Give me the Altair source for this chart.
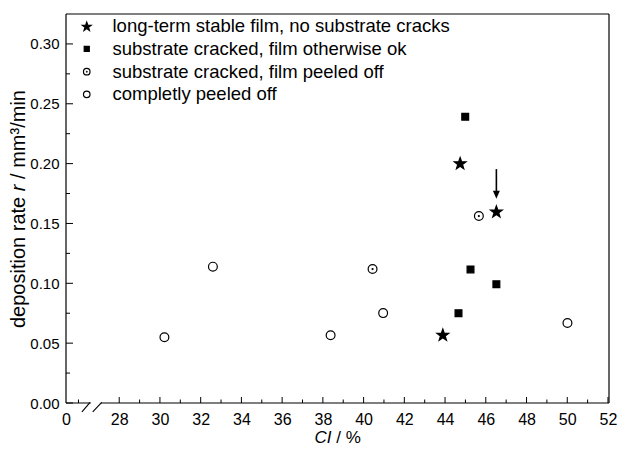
import altair as alt
import pandas as pd

FONT = "Liberation Sans"

categories = [
    "long-term stable film, no substrate cracks",
    "substrate cracked, film otherwise ok",
    "substrate cracked, film peeled off",
    "completly peeled off",
]

stable_x = [44.74, 46.52, 43.89]
stable_y = [0.2004, 0.1600, 0.0571]
cracked_x = [44.99, 45.25, 46.52, 44.66]
cracked_y = [0.2392, 0.1116, 0.0992, 0.0750]
cracked_peeled_x = [45.66, 40.44]
cracked_peeled_y = [0.1562, 0.1119]
peeled_x = [30.22, 32.60, 38.38, 40.96, 50.01]
peeled_y = [0.0549, 0.1139, 0.0566, 0.0751, 0.0668]

x_break_start = 25.387          # position labelled "0"
x_end = 52.05
x_major = [28, 30, 32, 34, 36, 38, 40, 42, 44, 46, 48, 50, 52]
x_minor = [26, 29, 31, 33, 35, 37, 39, 41, 43, 45, 47, 49, 51]
y_major = [0.0, 0.05, 0.10, 0.15, 0.20, 0.25, 0.30]
y_minor = [0.025, 0.075, 0.125, 0.175, 0.225, 0.275]
y_end = 0.325

arrow_x = [46.52]
arrow_top = [0.1954]
arrow_bottom = [0.1765]
arrow_head = [0.1739]

break_x1 = [26.17, 26.70]
break_x2 = [26.57, 27.14]
break_y1 = [-0.0075, -0.0075]
break_y2 = [0.0006, 0.0006]
gap_x = [26.60]
gap_x2 = [27.10]

W, H = 543, 389

STAR = ("M0,-0.905L0.235,-0.229L0.951,-0.214L0.380,0.219L0.588,0.904"
        "L0,0.495L-0.588,0.904L-0.380,0.219L-0.951,-0.214L-0.235,-0.229Z")
SQUARE = "M-0.55,-0.55L0.55,-0.55L0.55,0.55L-0.55,0.55Z"
CIRCLE = ("M0.71,0C0.71,0.392 0.392,0.71 0,0.71C-0.392,0.71 -0.71,0.392 -0.71,0"
          "C-0.71,-0.392 -0.392,-0.71 0,-0.71C0.392,-0.71 0.71,-0.392 0.71,0Z")
DOT = ("M0.08,0C0.08,0.044 0.044,0.08 0,0.08C-0.044,0.08 -0.08,0.044 -0.08,0"
       "C-0.08,-0.044 -0.044,-0.08 0,-0.08C0.044,-0.08 0.08,-0.044 0.08,0Z")
DOTCIRCLE = CIRCLE + DOT
HEAD = "M-0.875,-1L0.875,-1L0,1Z"

rows = []
for cat, xs, ys in [
    (categories[0], stable_x, stable_y),
    (categories[1], cracked_x, cracked_y),
    (categories[2], cracked_peeled_x, cracked_peeled_y),
    (categories[3], peeled_x, peeled_y),
]:
    for a, b in zip(xs, ys):
        rows.append({"x": a, "y": b, "cat": cat})
df = pd.DataFrame(rows)

xscale = alt.Scale(domain=[x_break_start, x_end], nice=False, zero=False)
yscale = alt.Scale(domain=[0, y_end], nice=False, zero=False)

x_axis = alt.Axis(
    values=[x_break_start] + x_major,
    labelExpr="datum.value < 27 ? '0' : format(datum.value, 'd')",
    ticks=False, tickSize=0, domain=False, grid=False, title=None,
    labelFont=FONT, labelFontSize=16, labelColor="black", labelPadding=8,
    labelFlush=False, labelOverlap=False, labelBound=False)
y_axis = alt.Axis(
    values=y_major, format=".2f",
    ticks=False, tickSize=0, domain=False, grid=False, title=None,
    labelFont=FONT, labelFontSize=15, labelColor="black", labelPadding=7,
    labelOverlap=False, labelFlush=False)

legend = alt.Legend(
    title=None, orient="none", legendX=11.5, legendY=3, padding=0,
    labelFont=FONT, labelFontSize=18.5, labelColor="black", labelOffset=16.5,
    symbolSize=85, symbolStrokeWidth=1.2,
    rowPadding=3.7, labelLimit=500,
)

points = alt.Chart(df).mark_point(
    filled=True, strokeWidth=1.2, size=154, opacity=1
).encode(
    x=alt.X("x:Q", scale=xscale, axis=x_axis),
    y=alt.Y("y:Q", scale=yscale, axis=y_axis),
    shape=alt.Shape("cat:N", scale=alt.Scale(
        domain=categories, range=[STAR, SQUARE, DOTCIRCLE, CIRCLE]), legend=legend),
    fill=alt.Fill("cat:N", scale=alt.Scale(
        domain=categories, range=["black", "black", "white", "white"]), legend=legend),
    stroke=alt.Stroke("cat:N", scale=alt.Scale(
        domain=categories, range=["black", "black", "black", "black"]), legend=legend),
)


def xtick_layer(vals, length):
    return alt.Chart(pd.DataFrame({"x": vals})).mark_rule(
        color="black", strokeWidth=1).encode(
        x=alt.X("x:Q", scale=xscale, axis=x_axis),
        y=alt.value(H), y2=alt.value(H - length))


def ytick_layer(vals, length):
    return alt.Chart(pd.DataFrame({"y": vals})).mark_rule(
        color="black", strokeWidth=1).encode(
        y=alt.Y("y:Q", scale=yscale, axis=y_axis),
        x=alt.value(0), x2=alt.value(length))


one = pd.DataFrame({"a": [0]})
border_left = alt.Chart(one).mark_rule(color="black", strokeWidth=1.2).encode(
    x=alt.value(0), y=alt.value(0), y2=alt.value(H))
border_bottom = alt.Chart(one).mark_rule(color="black", strokeWidth=1.2).encode(
    x=alt.value(0), x2=alt.value(W), y=alt.value(H))
border_top = alt.Chart(one).mark_rule(color="black", strokeWidth=1.2).encode(
    x=alt.value(0), x2=alt.value(W), y=alt.value(0))
border_right = alt.Chart(one).mark_rule(color="black", strokeWidth=1.2).encode(
    x=alt.value(W), y=alt.value(0), y2=alt.value(H))

gap = alt.Chart(pd.DataFrame({"x": gap_x, "x2": gap_x2, "y": [0.0]})).mark_rule(
    color="white", strokeWidth=4, clip=False).encode(
    x=alt.X("x:Q", scale=xscale, axis=x_axis), x2="x2:Q",
    y=alt.Y("y:Q", scale=yscale, axis=y_axis))

breaks = alt.Chart(pd.DataFrame({"x": break_x1, "x2": break_x2,
                                 "y": break_y1, "y2": break_y2})).mark_rule(
    color="black", strokeWidth=1.1, clip=False).encode(
    x=alt.X("x:Q", scale=xscale, axis=x_axis), x2="x2:Q",
    y=alt.Y("y:Q", scale=yscale, axis=y_axis), y2="y2:Q")

shaft = alt.Chart(pd.DataFrame({"x": arrow_x, "y": arrow_top, "y2": arrow_bottom})).mark_rule(
    color="black", strokeWidth=1.6).encode(
    x=alt.X("x:Q", scale=xscale, axis=x_axis),
    y=alt.Y("y:Q", scale=yscale, axis=y_axis), y2="y2:Q")

head = alt.Chart(pd.DataFrame({"x": arrow_x, "y": arrow_head})).mark_point(
    shape=HEAD, filled=True, fill="black", strokeWidth=0, size=64, opacity=1).encode(
    x=alt.X("x:Q", scale=xscale, axis=x_axis),
    y=alt.Y("y:Q", scale=yscale, axis=y_axis))


def txt(s, x, y, size, align="left", angle=0, italic=False):
    kw = dict(text=s, font=FONT, fontSize=size, color="black", align=align,
              baseline="middle")
    if angle:
        kw["angle"] = angle
    if italic:
        kw["fontStyle"] = "italic"
    return alt.Chart(one).mark_text(**kw).encode(x=alt.value(x), y=alt.value(y))


XT = 17
x_title_a = txt("CI", 248.5, 423.5, XT, italic=True)
x_title_b = txt("/ %", 270.2, 423.5, XT)

YT = 20
y_title_a = txt("deposition rate", -47, 314, YT, angle=270)
y_title_b = txt("r", -47, 177.2, YT, angle=270, italic=True)
y_title_c = txt("/ mm³/min", -47, 164.9, YT, angle=270)

chart = alt.layer(
    border_left, border_bottom, border_top, border_right,
    gap, breaks,
    xtick_layer(x_major, 6), xtick_layer(x_minor, 3.5),
    ytick_layer(y_major, 7), ytick_layer(y_minor, 4),
    shaft, head,
    points,
    x_title_a, x_title_b, y_title_a, y_title_b, y_title_c,
).properties(
    width=W, height=H,
    autosize=alt.AutoSizeParams(type="none"),
    padding={"left": 58, "top": 6, "right": 9, "bottom": 44},
).configure_view(stroke=None)

chart.save("out.html", embed_options={"renderer": "svg", "actions": False})
